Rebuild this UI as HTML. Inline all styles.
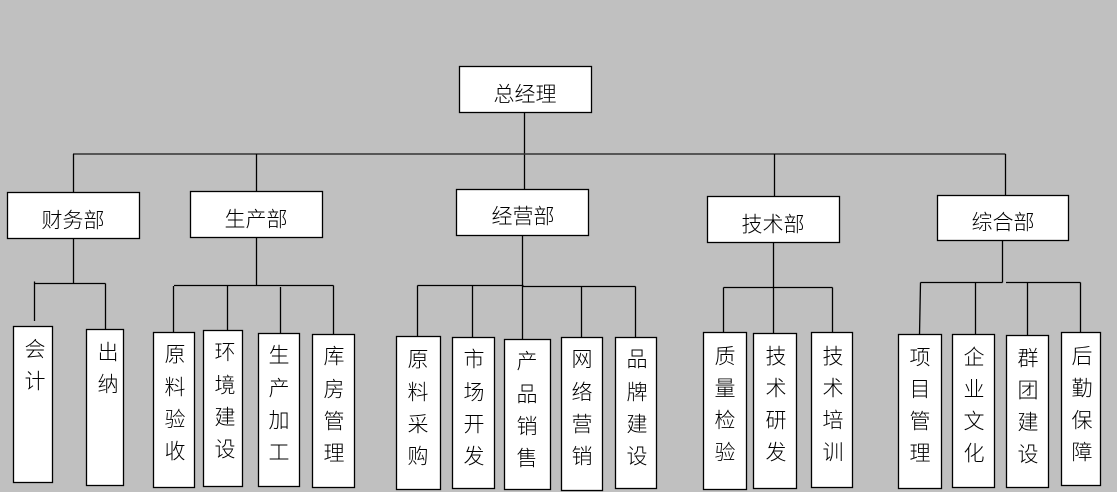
<!DOCTYPE html>
<html><head><meta charset="utf-8"><style>
html,body{margin:0;padding:0;background:#c0c0c0;}
svg{display:block;}
text{font-family:"Liberation Sans","Noto Sans CJK SC",sans-serif;font-size:21px;font-weight:300;fill:#000;}
</style></head><body>
<svg width="1117" height="492" viewBox="0 0 1117 492" xmlns="http://www.w3.org/2000/svg">
<rect width="1117" height="492" fill="#c0c0c0"/>
<g stroke="#000" stroke-width="1.3" fill="none">
<line x1="524.5" y1="112" x2="524.5" y2="190" />
<line x1="73" y1="154" x2="1005.5" y2="154" stroke="#333" stroke-width="1.6"/>
<line x1="73.5" y1="154" x2="73.5" y2="192"/>
<line x1="256.5" y1="154" x2="256.5" y2="191"/>
<line x1="774.5" y1="154" x2="774.5" y2="196"/>
<line x1="1005.5" y1="154" x2="1005.5" y2="195"/>
<line x1="73.5" y1="238" x2="73.5" y2="283.5"/>
<line x1="34.5" y1="283.5" x2="105.5" y2="283.5"/>
<line x1="34.5" y1="281.5" x2="34.5" y2="321"/>
<line x1="105.5" y1="283.5" x2="105.5" y2="329"/>
<line x1="256.5" y1="237" x2="256.5" y2="285.5"/>
<line x1="174" y1="285.5" x2="333.5" y2="285.5"/>
<line x1="173.5" y1="286" x2="173.5" y2="333"/>
<line x1="227.5" y1="285.5" x2="227.5" y2="330"/>
<line x1="280.5" y1="287" x2="280.5" y2="333"/>
<line x1="333.5" y1="285.5" x2="333.5" y2="334"/>
<line x1="522.5" y1="235" x2="522.5" y2="339"/>
<line x1="417.5" y1="285.5" x2="523.5" y2="285.5"/>
<line x1="523" y1="286.5" x2="635.5" y2="286.5"/>
<line x1="417.5" y1="285.5" x2="417.5" y2="336"/>
<line x1="472.5" y1="285.5" x2="472.5" y2="337"/>
<line x1="581.5" y1="286.5" x2="581.5" y2="337"/>
<line x1="635.5" y1="286.5" x2="635.5" y2="337"/>
<line x1="773.5" y1="242" x2="773.5" y2="333"/>
<line x1="723.5" y1="287.5" x2="832.5" y2="287.5"/>
<line x1="723.5" y1="287.5" x2="723.5" y2="332"/>
<line x1="832.5" y1="287.5" x2="832.5" y2="332"/>
<line x1="1002.5" y1="240" x2="1002.5" y2="282.5"/>
<line x1="920.5" y1="282.5" x2="1002.5" y2="282.5"/>
<line x1="1006" y1="282.5" x2="1080.5" y2="282.5"/>
<line x1="920.5" y1="282.5" x2="919.5" y2="335"/>
<line x1="975.5" y1="282.5" x2="975.5" y2="334"/>
<line x1="1027.5" y1="282.5" x2="1027.5" y2="335"/>
<line x1="1080.5" y1="282.5" x2="1080.5" y2="332"/>
</g>
<g stroke="#000" stroke-width="1.3" fill="#fff">
<rect x="459.5" y="66.5" width="132" height="46"/>
<rect x="7.5" y="192.5" width="132" height="46"/>
<rect x="190.5" y="191.5" width="132" height="46"/>
<rect x="456.5" y="189.5" width="132" height="46"/>
<rect x="707.5" y="196.5" width="132" height="46"/>
<rect x="937.5" y="195.5" width="131" height="45"/>
<rect x="13.5" y="326.5" width="39" height="156"/>
<rect x="86.5" y="329.5" width="37" height="156"/>
<rect x="153.5" y="332.5" width="41" height="155"/>
<rect x="203.5" y="330.5" width="39" height="156"/>
<rect x="258.5" y="333.5" width="41" height="153"/>
<rect x="312.5" y="334.5" width="42" height="153"/>
<rect x="396.5" y="336.5" width="44" height="153"/>
<rect x="452.5" y="337.5" width="42" height="151"/>
<rect x="504.5" y="339.5" width="46" height="150"/>
<rect x="561.5" y="337.5" width="41" height="153"/>
<rect x="615.5" y="337.5" width="41" height="151"/>
<rect x="703.5" y="332.5" width="43" height="157"/>
<rect x="753.5" y="333.5" width="43" height="155"/>
<rect x="811.5" y="332.5" width="41" height="155"/>
<rect x="898.5" y="334.5" width="43" height="154"/>
<rect x="952.5" y="334.5" width="42" height="153"/>
<rect x="1006.5" y="335.5" width="42" height="152"/>
<rect x="1061.5" y="332.5" width="39" height="153"/>
</g>
<g text-anchor="middle" dominant-baseline="central">
<text x="525" y="95">总经理</text>
<text x="73" y="221">财务部</text>
<text x="256" y="220">生产部</text>
<text x="523" y="217">经营部</text>
<text x="773" y="225">技术部</text>
<text x="1003" y="223">综合部</text>
</g>
<g text-anchor="middle" dominant-baseline="central">
<text x="35" y="350">会</text><text x="35" y="382">计</text>
<text x="108" y="353">出</text><text x="108" y="385">纳</text>
<text x="175" y="355">原</text><text x="175" y="388">料</text><text x="175" y="420">验</text><text x="175" y="452">收</text>
<text x="225" y="353">环</text><text x="225" y="386">境</text><text x="225" y="418">建</text><text x="225" y="450">设</text>
<text x="279" y="356">生</text><text x="279" y="389">产</text><text x="279" y="421">加</text><text x="279" y="453">工</text>
<text x="334" y="357">库</text><text x="334" y="390">房</text><text x="334" y="422">管</text><text x="334" y="454">理</text>
<text x="418" y="360">原</text><text x="418" y="393">料</text><text x="418" y="425">采</text><text x="418" y="457">购</text>
<text x="474" y="360">市</text><text x="474" y="393">场</text><text x="474" y="425">开</text><text x="474" y="457">发</text>
<text x="527" y="362">产</text><text x="527" y="395">品</text><text x="527" y="427">销</text><text x="527" y="459">售</text>
<text x="582" y="360">网</text><text x="582" y="393">络</text><text x="582" y="425">营</text><text x="582" y="457">销</text>
<text x="637" y="360">品</text><text x="637" y="393">牌</text><text x="637" y="425">建</text><text x="637" y="457">设</text>
<text x="725" y="357">质</text><text x="725" y="389">量</text><text x="725" y="421">检</text><text x="725" y="453">验</text>
<text x="776" y="357">技</text><text x="776" y="389">术</text><text x="776" y="421">研</text><text x="776" y="453">发</text>
<text x="833" y="357">技</text><text x="833" y="389">术</text><text x="833" y="421">培</text><text x="833" y="453">训</text>
<text x="920" y="358">项</text><text x="920" y="390">目</text><text x="920" y="422">管</text><text x="920" y="454">理</text>
<text x="974" y="358">企</text><text x="974" y="390">业</text><text x="974" y="422">文</text><text x="974" y="454">化</text>
<text x="1028" y="359">群</text><text x="1028" y="391">团</text><text x="1028" y="423">建</text><text x="1028" y="455">设</text>
<text x="1082" y="357">后</text><text x="1082" y="389">勤</text><text x="1082" y="421">保</text><text x="1082" y="453">障</text>
</g>
</svg>
</body></html>
